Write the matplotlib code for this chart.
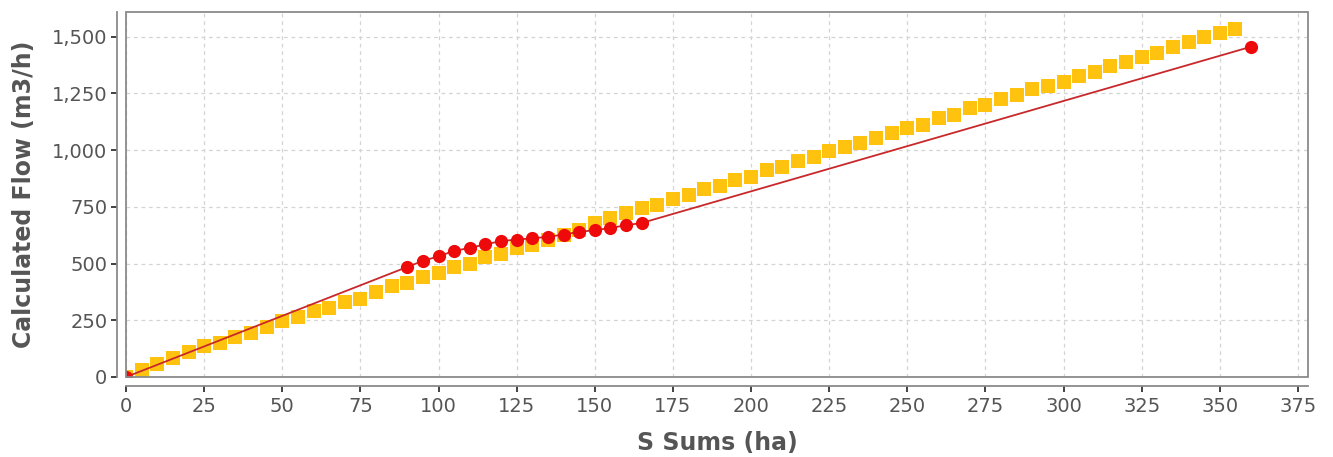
import matplotlib
matplotlib.use("Agg")
import matplotlib.pyplot as plt
from matplotlib.patches import Rectangle
from matplotlib.ticker import FuncFormatter, MultipleLocator

# Series: sum of S (ha) against calculated flow (m3/h)
s_sums_yellow = list(range(0, 360, 5))
flow_yellow = [0, 30, 59, 85, 109, 135, 150, 177, 194, 221,
               246, 265, 291, 304, 330, 346, 375, 400, 414, 441,
               459, 485, 500, 529, 544, 569, 581, 603, 625, 650,
               677, 699, 721, 743, 760, 786, 801, 827, 843, 868,
               882, 912, 926, 953, 970, 997, 1012, 1030, 1054, 1074,
               1096, 1113, 1140, 1157, 1184, 1198, 1225, 1243, 1268, 1284,
               1301, 1328, 1346, 1371, 1387, 1412, 1429, 1456, 1475, 1500,
               1517, 1532]

s_sums_red = [0, 90, 95, 100, 105, 110, 115, 120, 125, 130, 135,
              140, 145, 150, 155, 160, 165, 360]
flow_red = [0, 485, 512, 532, 556, 569, 585, 599, 606, 611, 618,
            628, 640, 647, 657, 669, 679, 1456]

x_label = "S Sums (ha)"
y_label = "Calculated Flow (m3/h)"

W, H, DPI = 1333, 457, 100
XLIM = (0, 378.2)
YLIM = (0, 1609)
AXIS_GREY = "#8A8A8A"
TEXT_GREY = "#555555"

fig = plt.figure(figsize=(W / DPI, H / DPI), dpi=DPI)
fig.patch.set_facecolor("white")

left, right, top, bottom = 126, 1308, 12, 377
offset = 8  # gap between plot outline and the axis lines (px)


def frac(x0, y0, x1, y1):
    """Pixel box (top-left origin) -> figure fraction rect."""
    return [x0 / W, 1 - y1 / H, (x1 - x0) / W, (y1 - y0) / H]


# data area
ax = fig.add_axes(frac(left, top, right, bottom))
ax.set_facecolor("white")
ax.set_xlim(*XLIM)
ax.set_ylim(*YLIM)

ax.plot(s_sums_yellow, flow_yellow, linestyle="none", marker="s",
        markersize=10, color="#FFC30F", markeredgewidth=0, zorder=3)
ax.plot(s_sums_red, flow_red, linestyle="-", linewidth=1.3, color="#C8282A",
        marker="o", markersize=9.5, markerfacecolor="#EE0A0A",
        markeredgewidth=0, zorder=4)

ax.xaxis.set_major_locator(MultipleLocator(25))
ax.yaxis.set_major_locator(MultipleLocator(250))
ax.grid(True, color="#D4D4D4", linestyle=(0, (3, 3)), linewidth=0.9)
ax.set_axisbelow(True)
ax.tick_params(axis="both", length=0, labelbottom=False, labelleft=False)
for sp in ax.spines.values():
    sp.set_visible(False)
ax.add_patch(Rectangle((0, 0), 1, 1, transform=ax.transAxes, fill=False,
                       edgecolor=AXIS_GREY, linewidth=1.3, clip_on=False,
                       zorder=5))

# domain axis, offset below the plot
ax_x = fig.add_axes(frac(left, bottom + offset, right, bottom + offset + 1))
ax_x.set_xlim(*XLIM)
ax_x.patch.set_visible(False)
ax_x.set_yticks([])
for sp in ("top", "left", "right"):
    ax_x.spines[sp].set_visible(False)
ax_x.spines["bottom"].set_color(AXIS_GREY)
ax_x.spines["bottom"].set_linewidth(1.3)
ax_x.xaxis.set_major_locator(MultipleLocator(25))
ax_x.tick_params(axis="x", colors=TEXT_GREY, labelsize=14, length=4,
                 width=1.3, pad=4)
ax_x.tick_params(axis="x", color="#333333")
ax_x.set_xlabel(x_label, fontsize=17, fontweight="bold", color=TEXT_GREY,
                labelpad=11)

# range axis, offset left of the plot
ax_y = fig.add_axes(frac(left - offset - 1, top, left - offset, bottom))
ax_y.set_ylim(*YLIM)
ax_y.patch.set_visible(False)
ax_y.set_xticks([])
for sp in ("top", "bottom", "right"):
    ax_y.spines[sp].set_visible(False)
ax_y.spines["left"].set_color(AXIS_GREY)
ax_y.spines["left"].set_linewidth(1.3)
ax_y.yaxis.set_major_locator(MultipleLocator(250))
ax_y.yaxis.set_major_formatter(FuncFormatter(lambda v, p: f"{int(v):,}"))
ax_y.tick_params(axis="y", colors=TEXT_GREY, labelsize=14, length=4,
                 width=1.3, pad=3)
ax_y.tick_params(axis="y", color="#333333")
ax_y.set_ylabel(y_label, fontsize=17, fontweight="bold", color=TEXT_GREY,
                labelpad=11)

fig.savefig("out.png", dpi=DPI)
